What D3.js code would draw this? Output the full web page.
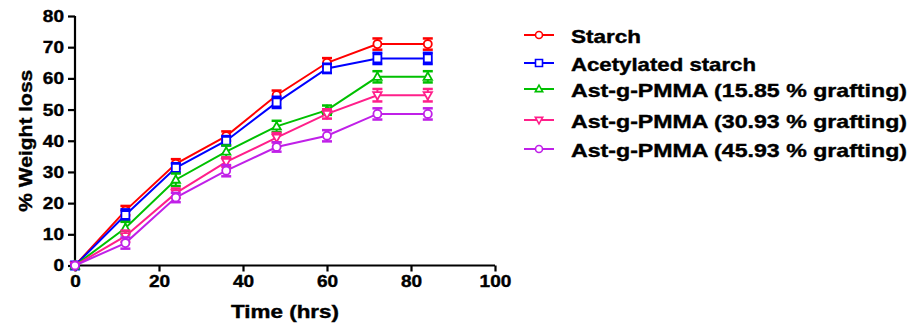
<!DOCTYPE html>
<html>
<head>
<meta charset="utf-8">
<script src="https://cdn.jsdelivr.net/npm/d3@7"></script>
<style>
  html, body { margin: 0; padding: 0; background: #fff; }
  svg { display: block; }
  text { font-family: "Liberation Sans", Arial, sans-serif; font-weight: bold; fill: #000; stroke: #000; stroke-width: 0.4px; }
</style>
</head>
<body>
<svg id="chart" width="912" height="329"></svg>
<script>
// Time points (hrs)
const timePoints = [0, 12, 24, 36, 48, 60, 72, 84];

// % weight loss per sample
const seriesNames = [
  "Starch",
  "Acetylated starch",
  "Ast-g-PMMA (15.85 % grafting)",
  "Ast-g-PMMA (30.93 % grafting)",
  "Ast-g-PMMA (45.93 % grafting)"
];
const starch      = [0, 17.6, 32.6, 41.5, 54.6, 65.0, 71.0, 71.0];
const acetylated  = [0, 16.2, 31.3, 40.0, 52.3, 63.2, 66.4, 66.4];
const graft1585   = [0, 12.0, 27.5, 36.5, 44.6, 49.8, 60.5, 60.5];
const graft3093   = [0, 9.4, 23.2, 33.2, 41.0, 48.6, 54.6, 54.6];
const graft4593   = [0, 7.2, 21.8, 30.4, 38.0, 41.6, 48.6, 48.6];
const errStarch     = [0, 1.5, 1.5, 1.5, 1.5, 1.5, 1.8, 1.8];
const errAcetylated = [0, 1.8, 1.5, 1.5, 1.8, 1.5, 1.8, 1.8];
const errG1585      = [0, 2.0, 2.0, 2.0, 1.8, 1.5, 1.8, 1.8];
const errG3093      = [0, 1.8, 1.5, 1.5, 1.5, 1.5, 2.0, 2.0];
const errG4593      = [0, 1.8, 1.5, 1.8, 1.5, 1.8, 1.8, 1.8];

const xTicks = [0, 20, 40, 60, 80, 100];
const yTicks = [0, 10, 20, 30, 40, 50, 60, 70, 80];

const colors = ["#ff0000", "#0000ff", "#00c000", "#ff1f8a", "#c020e8"];
const symbols = ["circle", "square", "triUp", "triDown", "diamond"];

const series = seriesNames.map((name, i) => ({
  name,
  values: [starch, acetylated, graft1585, graft3093, graft4593][i],
  errors: [errStarch, errAcetylated, errG1585, errG3093, errG4593][i],
  color: colors[i],
  symbol: symbols[i]
}));

const svg = d3.select("#chart");
const x = d3.scaleLinear().domain([0, 100]).range([75, 495]);
const y = d3.scaleLinear().domain([0, 80]).range([265.5, 16]);

// Wide, heavy label style: stretch text to a given width per character
function widen(sel, perChar) {
  sel.each(function () {
    const n = this.textContent.length;
    d3.select(this).attr("textLength", n * perChar).attr("lengthAdjust", "spacingAndGlyphs");
  });
}

// Axes
const xAxis = svg.append("g").attr("transform", `translate(0,${y(0)})`)
  .call(d3.axisBottom(x).tickValues(xTicks).tickSize(6).tickPadding(3).tickFormat(d3.format("d")));
const yAxis = svg.append("g").attr("transform", `translate(${x(0)},0)`)
  .call(d3.axisLeft(y).tickValues(yTicks).tickSize(7).tickPadding(4).tickFormat(d3.format("d")));
[xAxis, yAxis].forEach(g => {
  g.select(".domain").attr("stroke", "#000").attr("stroke-width", 2.2);
  g.selectAll(".tick line").attr("stroke", "#000").attr("stroke-width", 2.2);
  g.selectAll(".tick text").style("font-size", "17px").style("font-weight", "bold")
    .style("font-family", "'Liberation Sans', Arial, sans-serif").attr("fill", "#000")
    .call(widen, 10.6);
});
xAxis.select(".domain").attr("d", `M${x(0)},0H${x(100)}`);
yAxis.select(".domain").attr("d", `M0,${y(0)}V${y(80)}`);

// Axis titles
svg.append("text").attr("x", x(50)).attr("y", 318).attr("text-anchor", "middle")
  .style("font-size", "18px").attr("textLength", 108).attr("lengthAdjust", "spacingAndGlyphs")
  .text("Time (hrs)");
svg.append("text").attr("transform", `translate(32,${(y(0) + y(80)) / 2}) rotate(-90)`)
  .attr("text-anchor", "middle").style("font-size", "19px")
  .attr("textLength", 142).attr("lengthAdjust", "spacingAndGlyphs")
  .text("% Weight loss");

// Marker shapes
function markerPath(sym, r) {
  switch (sym) {
    case "circle": return d3.symbol(d3.symbolCircle, Math.PI * r * r)();
    case "square": return `M${-r},${-r}H${r}V${r}H${-r}Z`;
    case "triUp": return `M0,${-r * 1.1}L${r * 1.05},${r * 0.75}H${-r * 1.05}Z`;
    case "triDown": return `M0,${r * 1.1}L${r * 1.05},${-r * 0.75}H${-r * 1.05}Z`;
    case "diamond": return d3.symbol(d3.symbolCircle, Math.PI * r * r)();
  }
}

const line = d3.line().x(d => x(d.t)).y(d => y(d.v));

const plot = svg.append("g");
series.forEach(s => {
  const pts = timePoints.map((t, i) => ({ t, v: s.values[i], e: s.errors[i] }));
  const g = plot.append("g");
  g.append("path").datum(pts).attr("d", line).attr("fill", "none")
    .attr("stroke", s.color).attr("stroke-width", 2);
  // error bars
  const eb = g.selectAll(".eb").data(pts.filter(p => p.e > 0)).join("g");
  eb.append("line").attr("x1", d => x(d.t)).attr("x2", d => x(d.t))
    .attr("y1", d => y(d.v - d.e)).attr("y2", d => y(d.v + d.e))
    .attr("stroke", s.color).attr("stroke-width", 2);
  [-1, 1].forEach(sg => {
    eb.append("line").attr("x1", d => x(d.t) - 5).attr("x2", d => x(d.t) + 5)
      .attr("y1", d => y(d.v + sg * d.e)).attr("y2", d => y(d.v + sg * d.e))
      .attr("stroke", s.color).attr("stroke-width", 2.5);
  });
  g.selectAll(".mk").data(pts).join("path")
    .attr("transform", d => `translate(${x(d.t)},${y(d.v)})`)
    .attr("d", markerPath(s.symbol, 4))
    .attr("fill", "#fff").attr("stroke", s.color).attr("stroke-width", 1.8);
});

// Legend
const legendY = [35, 63, 89, 120, 149];
const legendWidths = [70, 185, 336, 336, 336];
const legend = svg.append("g");
series.forEach((s, i) => {
  const ly = legendY[i];
  legend.append("line").attr("x1", 524).attr("x2", 554).attr("y1", ly).attr("y2", ly)
    .attr("stroke", s.color).attr("stroke-width", 2);
  legend.append("path").attr("transform", `translate(539,${ly})`)
    .attr("d", markerPath(s.symbol, 3.5)).attr("fill", "#fff")
    .attr("stroke", s.color).attr("stroke-width", 1.6);
  legend.append("text").attr("x", 571).attr("y", ly + 7.5)
    .style("font-size", "19px")
    .attr("textLength", legendWidths[i]).attr("lengthAdjust", "spacingAndGlyphs")
    .text(s.name);
});
</script>
</body>
</html>
